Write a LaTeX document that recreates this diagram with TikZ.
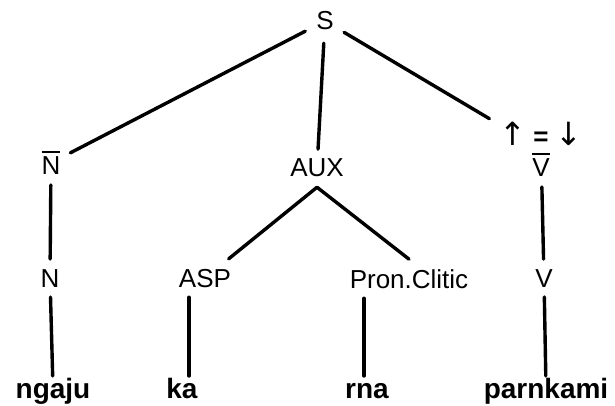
\documentclass[tikz,border=0pt]{standalone}
\usepackage{fontspec}
\setmainfont{Liberation Sans}
\newfontfamily\arrowfont{DejaVu Sans}
\newcommand{\barred}[1]{\vbox{\hrule height 2.4pt\kern 4pt\hbox{#1}}}
\tikzset{
	cat/.style={rectangle, inner sep=10pt, outer sep=0pt, font=\fontsize{26}{32}\selectfont},
	word/.style={rectangle, inner sep=2pt, outer sep=0pt, text height=20pt, text depth=0pt, font=\bfseries\fontsize{28}{32}\selectfont},
	branch/.style={line width=3.4pt, line cap=round}
}
\begin{document}
\begin{tikzpicture}[x=1pt, y=-1pt]
	\useasboundingbox (0,0) rectangle (615,406);
	\node[circle, inner sep=0pt, minimum size=44pt, font=\fontsize{26}{32}\selectfont] at (325,21) (S) {S};
	\node[cat, anchor=base] at (51,175) (Nbar) {\barred{N}};
	\node[cat, anchor=base] at (317,177) (AUX) {AUX};
	\node[cat, anchor=south, align=center] at (541,187) (Vbar) {{\arrowfont\fontsize{32}{32}\selectfont↑} \textbf{=} {\arrowfont\fontsize{32}{32}\selectfont↓}\\\barred{V}};
	\node[cat, anchor=base] at (50,287) (N) {N};
	\node[cat, anchor=base] at (205,287) (ASP) {ASP};
	\node[cat, anchor=base] at (409,288) (Pron) {Pron.Clitic};
	\node[cat, anchor=base] at (544,287) (V) {V};
	\node[word, anchor=base] at (53,398) (ngaju) {ngaju};
	\node[word, anchor=base] at (182,398) (ka) {ka};
	\node[word, anchor=base] at (367,398) (rna) {rna};
	\node[word, anchor=base] at (546,398) (parnkami) {parnkami};
	\draw[branch] (S) -- (Nbar);
	\draw[branch] (S) -- (AUX);
	\draw[branch] (S) -- (Vbar);
	\draw[branch] (Nbar) -- (N);
	\draw[branch] (AUX.south) -- (ASP);
	\draw[branch] (AUX.south) -- (Pron.north);
	\draw[branch] (Vbar) -- (V);
	\draw[branch] (N) -- (ngaju);
	\draw[branch] ([xshift=7pt]ka.north |- ASP.south) -- ([xshift=7pt]ka.north);
	\draw[branch] ([xshift=-3pt]rna.north |- Pron.south) -- ([xshift=-3pt]rna.north);
	\draw[branch] (V) -- (parnkami);
\end{tikzpicture}
\end{document}
